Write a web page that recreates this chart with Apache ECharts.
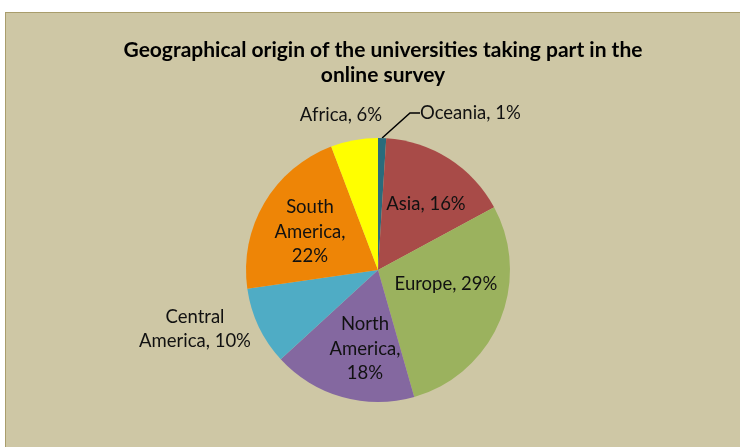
<!DOCTYPE html>
<html>
<head>
<meta charset="utf-8">
<script src="https://cdn.jsdelivr.net/npm/echarts@6/dist/echarts.min.js"></script>
<style>
html,body{margin:0;padding:0;background:#fff;width:740px;height:447px;overflow:hidden;}
#frame{position:absolute;left:5px;top:12px;width:760px;height:460px;background:#CEC7A5;border-left:1.5px solid #A99D6C;border-top:1.5px solid #A99D6C;}
#main{position:absolute;left:0;top:0;width:740px;height:447px;}
</style>
</head>
<body>
<div id="frame"></div>
<div id="main"></div>
<script>
const categories = ['Oceania', 'Asia', 'Europe', 'North America', 'Central America', 'South America', 'Africa'];
const values = [1.0, 16.2, 28.6, 17.7, 9.6, 21.6, 5.8];
const shownPct = [1, 16, 29, 18, 10, 22, 6];
const colors = ['#2A6B7C', '#A84B48', '#9BB25E', '#8468A0', '#4FACC5', '#EE8506', '#FFFF00'];
const labelText = [
  'Oceania, 1%',
  'Asia, 16%',
  'Europe, 29%',
  'North\nAmerica,\n18%',
  'Central\nAmerica, 10%',
  'South\nAmerica,\n22%',
  'Africa, 6%'
];
const labelPos = [
  {x: 420, y: 113, align: 'left'},
  {x: 426, y: 204, align: 'center'},
  {x: 446, y: 284, align: 'center'},
  {x: 365, y: 349, align: 'center'},
  {x: 195, y: 329, align: 'center'},
  {x: 310, y: 232, align: 'center'},
  {x: 341, y: 115, align: 'center'}
];

const chart = echarts.init(document.getElementById('main'), null, {renderer: 'canvas'});
chart.setOption({
  backgroundColor: 'transparent',
  animation: false,
  title: {
    text: 'Geographical origin of the universities taking part in the\nonline survey',
    left: 378,
    top: 33,
    textAlign: 'center',
    textStyle: {fontFamily: 'Lato', fontWeight: 'bold', fontSize: 21, color: '#000', lineHeight: 25}
  },
  series: [{
    type: 'pie',
    center: [378, 270],
    radius: 132,
    startAngle: 90,
    clockwise: true,
    data: categories.map((c, i) => ({
      name: c,
      value: values[i],
      itemStyle: {color: colors[i]},
      labelLine: {show: i === 0, length: 10, length2: 10, lineStyle: {color: '#000', width: 1.5}}
    })),
    label: {
      show: true,
      position: 'outside',
      formatter: p => labelText[p.dataIndex],
      fontFamily: 'Lato',
      fontSize: 18.5,
      lineHeight: 24.5,
      color: '#111',
      align: 'center'
    },
    labelLayout: p => {
      const lp = labelPos[p.dataIndex];
      return {x: lp.x, y: lp.y, align: lp.align, verticalAlign: 'middle'};
    },
    itemStyle: {borderWidth: 0}
  }]
});
</script>
</body>
</html>
